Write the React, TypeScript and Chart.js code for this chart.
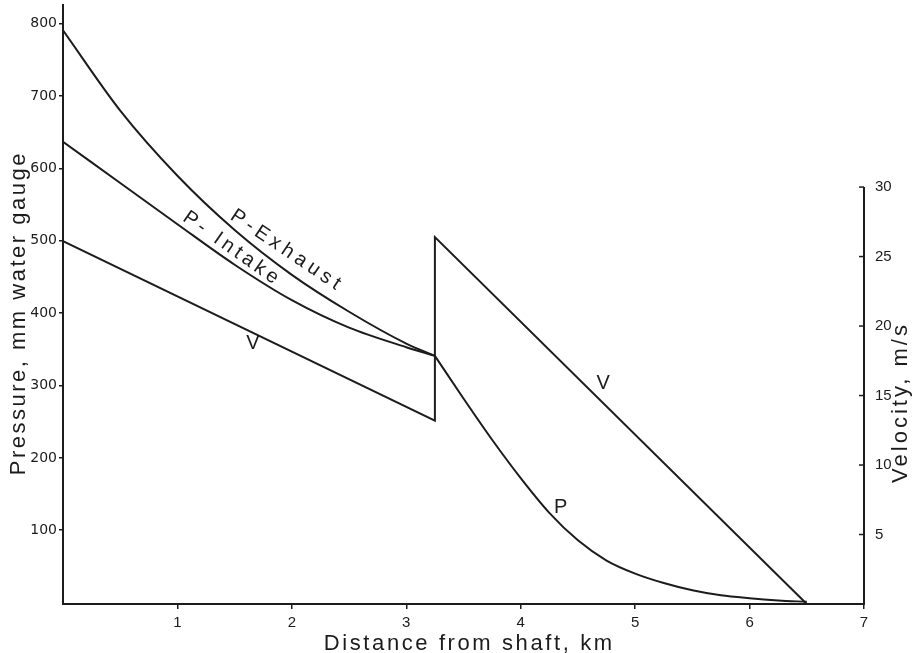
import React, { useEffect, useRef } from "react";
import { Chart, registerables } from "chart.js";

Chart.register(...registerables);

// Distance from shaft (km) and values
const exhaustKm = [0, 0.5, 1.0, 1.5, 2.0, 2.5, 3.0, 3.25];
const exhaustP = [791, 680, 590, 515, 453, 402, 358, 341];

const intakeKm = [0, 0.5, 1.0, 1.5, 2.0, 2.5, 3.0, 3.25];
const intakeP = [637, 580, 523, 467, 418, 380, 353, 341];

const outbyeKm = [3.25, 3.5, 3.75, 4.0, 4.25, 4.5, 4.75, 5.0, 5.25, 5.5, 5.75, 6.0, 6.25, 6.5];
const outbyeP = [341, 282, 225, 172, 124, 86, 58, 40, 27, 17, 10, 6, 3, 1];

const velocityKm = [0, 3.25, 3.25, 6.5];
const velocityV = [26.1, 13.2, 26.4, 0];

const pressureTicks = [100, 200, 300, 400, 500, 600, 700, 800];
const velocityTicks = [5, 10, 15, 20, 25, 30];
const distanceTicks = [1, 2, 3, 4, 5, 6, 7];

const xTitle = "Distance from shaft, km";
const yTitle = "Pressure, mm water gauge";
const y2Title = "Velocity, m/s";

const labelTexts = ["P-Exhaust", "P- Intake", "V", "V", "P"];
const labelKm = [1.96, 1.48, 1.66, 4.72, 4.35];
const labelP = [486, 489, 358, 303, 132];
const labelAngle = [34, 35, 0, 0, 0];
const labelSpacing = ["4.5px", "4px", "0px", "0px", "0px"];

const INK = "#1c1c1c";
const SANS = "'Liberation Sans', Arial, Helvetica, sans-serif";
const NARROW = "'Liberation Sans Narrow', 'Liberation Sans', Arial, sans-serif";
const WIDE = "'DejaVu Sans', 'Liberation Sans', sans-serif";

const pts = (xs: number[], ys: number[]) => xs.map((x, i) => ({ x, y: ys[i] }));

const overlay = {
  id: "overlay",
  afterDraw(chart: any) {
    const { ctx, chartArea } = chart;
    const xs = chart.scales.x;
    const yl = chart.scales.y;
    const yr = chart.scales.y2;
    ctx.save();
    // right axis line up to 30 with inward ticks
    ctx.strokeStyle = INK;
    ctx.lineWidth = 2;
    ctx.beginPath();
    ctx.moveTo(chartArea.right, yr.getPixelForValue(0) + 1);
    ctx.lineTo(chartArea.right, yr.getPixelForValue(30));
    ctx.stroke();
    ctx.lineWidth = 1.5;
    velocityTicks.forEach((v) => {
      const py = yr.getPixelForValue(v);
      ctx.beginPath();
      ctx.moveTo(chartArea.right - 5, py);
      ctx.lineTo(chartArea.right, py);
      ctx.stroke();
    });
    ctx.restore();

    const drawText = (t: string, x: number, y: number, rot: number, font: string, spacing: string, baseline: string) => {
      ctx.save();
      ctx.fillStyle = INK;
      ctx.font = font;
      (ctx as any).letterSpacing = spacing;
      ctx.textAlign = "center";
      ctx.textBaseline = baseline;
      ctx.translate(x, y);
      ctx.rotate(rot);
      ctx.fillText(t, 0, 0);
      ctx.restore();
    };
    drawText(xTitle, xs.getPixelForValue(3.55), 650, 0, `22px ${SANS}`, "2.6px", "alphabetic");
    drawText(yTitle, 25, yl.getPixelForValue(400), -Math.PI / 2, `22px ${SANS}`, "2.5px", "alphabetic");
    drawText(y2Title, 907, yr.getPixelForValue(14.5), -Math.PI / 2, `22px ${SANS}`, "3px", "alphabetic");

    labelTexts.forEach((t, i) => {
      drawText(
        t,
        xs.getPixelForValue(labelKm[i]),
        yl.getPixelForValue(labelP[i]),
        (labelAngle[i] * Math.PI) / 180,
        `20px ${SANS}`,
        labelSpacing[i],
        "middle"
      );
    });
  },
};

export default function App() {
  const ref = useRef<HTMLCanvasElement | null>(null);
  useEffect(() => {
    if (!ref.current) return;
    const line = {
      showLine: true,
      borderColor: INK,
      backgroundColor: INK,
      borderWidth: 2,
      pointRadius: 0,
      fill: false,
    };
    const chart = new Chart(ref.current, {
      type: "scatter",
      data: {
        datasets: [
          { ...line, label: "P-Exhaust", data: pts(exhaustKm, exhaustP), yAxisID: "y", cubicInterpolationMode: "monotone" },
          { ...line, label: "P-Intake", data: pts(intakeKm, intakeP), yAxisID: "y", cubicInterpolationMode: "monotone" },
          { ...line, label: "P", data: pts(outbyeKm, outbyeP), yAxisID: "y", cubicInterpolationMode: "monotone" },
          { ...line, label: "V", data: pts(velocityKm, velocityV), yAxisID: "y2", tension: 0 },
        ] as any,
      },
      options: {
        animation: false,
        responsive: false,
        maintainAspectRatio: false,
        layout: { padding: { top: 5, left: 0, right: 0, bottom: 0 } },
        plugins: { legend: { display: false }, tooltip: { enabled: false }, title: { display: false } },
        scales: {
          x: {
            type: "linear",
            min: 0,
            max: 7,
            afterBuildTicks: (s: any) => {
              s.ticks = distanceTicks.map((v) => ({ value: v }));
            },
            afterFit: (s: any) => {
              s.height = 49;
              s.paddingLeft = 0;
              s.paddingRight = 0;
            },
            ticks: { color: INK, font: { family: NARROW, size: 15 }, padding: 5, maxRotation: 0 },
            grid: { display: true, drawOnChartArea: false, drawTicks: true, tickLength: 5, color: INK, lineWidth: 1.5 },
            border: { display: true, color: INK, width: 2 },
            title: { display: false },
          },
          y: {
            type: "linear",
            position: "left",
            min: -2,
            max: 826,
            afterBuildTicks: (s: any) => {
              s.ticks = pressureTicks.map((v) => ({ value: v }));
            },
            afterFit: (s: any) => {
              s.width = 63;
              s.paddingTop = 0;
              s.paddingBottom = 0;
            },
            ticks: { color: INK, font: { family: WIDE, size: 14 }, padding: 2 },
            grid: { display: true, drawOnChartArea: false, drawTicks: true, tickLength: 4, color: INK, lineWidth: 1.5 },
            border: { display: true, color: INK, width: 2 },
            title: { display: false },
          },
          y2: {
            type: "linear",
            position: "right",
            min: 0,
            max: 43.1,
            afterBuildTicks: (s: any) => {
              s.ticks = velocityTicks.map((v) => ({ value: v }));
            },
            afterFit: (s: any) => {
              s.width = 49;
              s.paddingTop = 0;
              s.paddingBottom = 0;
            },
            ticks: { color: INK, font: { family: SANS, size: 15 }, padding: 3 },
            grid: { display: false },
            border: { display: false },
          },
        },
      } as any,
      plugins: [overlay],
    });
    return () => chart.destroy();
  }, []);
  return (
    <div style={{ position: "fixed", left: 0, top: 0, width: 913, height: 653, background: "#fff" }}>
      <canvas ref={ref} width={913} height={653} style={{ width: 913, height: 653, display: "block" }} />
    </div>
  );
}
